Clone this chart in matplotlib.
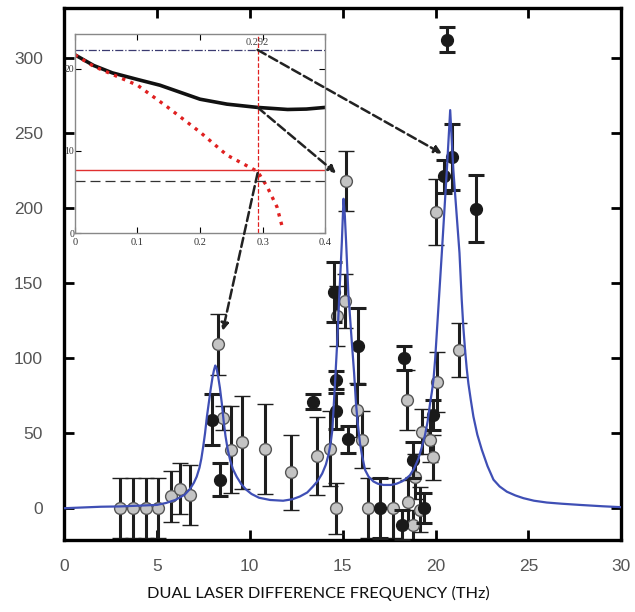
import matplotlib
matplotlib.use('Agg')
import matplotlib.pyplot as plt

# gray points (x, y, error)
gray_x = [3.0, 3.7, 4.4, 5.05, 5.75, 6.25, 6.8, 8.32, 8.59, 9.0, 9.57, 10.85,
          12.23, 13.62, 14.33, 14.65, 14.69, 15.13, 15.19, 15.8, 16.05, 16.37,
          17.7, 18.45, 18.54, 18.81, 18.9, 19.17, 19.26, 19.71, 19.89, 20.03,
          20.07, 21.29]
gray_y = [0, 0, 0, 0, 8, 13, 9, 109, 60, 39, 44, 39.5,
          24, 34.5, 39.5, 0, 128, 138, 218, 65.5, 45.5, 0,
          0, 72, 4, -11, 21, -1, 51, 45.5, 34, 197,
          84, 105.5]
gray_err = [20, 20, 20, 20, 17, 17, 20, 20, 8, 29, 31, 30,
            25, 26, 25, 17, 20, 18, 20, 18, 19, 20,
            20, 20, 15, 10, 15, 15, 15, 15, 15, 22,
            20, 18]

# black points
black_x = [8.0, 8.41, 13.4, 14.54, 14.64, 14.64, 15.31, 15.82, 17.02, 18.19,
           18.3, 18.8, 19.4, 19.85, 20.48, 20.6, 20.88, 22.18]
black_y = [59, 19, 71, 144, 85.5, 65, 46, 108, 0, -11,
           100, 32, 0, 62, 221, 312, 234, 199.5]
black_err = [17, 11, 5, 20, 6, 12, 9, 25, 20, 10,
             8, 12, 10, 10, 11, 8, 22, 22]

# fitted curve
fit_x = [0, 1, 2, 3, 4, 5, 5.5, 6, 6.5, 6.8, 7.0, 7.15, 7.3, 7.4, 7.5, 7.6,
         7.7, 7.8, 7.9, 8.0, 8.08, 8.15, 8.22, 8.3, 8.4, 8.5, 8.6, 8.7, 8.82,
         8.95, 9.1, 9.3, 9.55, 9.8, 10.1, 10.5, 11.1, 11.8, 12.3, 12.7, 13.1,
         13.4, 13.65, 13.9, 14.1, 14.25, 14.35, 14.45, 14.6, 14.7, 14.83,
         14.96, 15.05, 15.12, 15.19, 15.31, 15.5, 15.62, 15.72, 15.82, 15.94,
         16.05, 16.21, 16.4, 16.66, 16.9, 17.2, 17.6, 17.9, 18.19, 18.4, 18.63,
         18.85, 19.08, 19.25, 19.44, 19.58, 19.71, 19.8, 19.89, 19.98, 20.34,
         20.61, 20.79, 20.96, 21.29, 21.41, 21.5, 21.59, 21.68, 21.77, 21.9,
         22.04, 22.25, 22.49, 22.8, 23.12, 23.45, 23.84, 24.3, 24.73, 25.3,
         25.99, 26.8, 27.78, 29, 30]
fit_y = [0, 0.5, 1, 1.2, 1.7, 2.2, 3.5, 5.5, 9, 13, 17, 21, 27, 33, 41, 50,
         61, 70, 79, 87, 92, 95, 93, 88, 80, 70, 58, 48, 39,
         32, 26, 21, 16, 12.5, 9.5, 7, 5.5, 5, 6, 7.8, 10.5,
         14.4, 18, 23, 29, 36, 43, 52, 85, 108, 143,
         177, 206, 195, 177, 143, 110, 90, 70, 56, 43,
         35, 25.5, 21, 17.8, 16.3, 15.5, 15.5, 16.3, 17.8, 19.5, 22,
         26.5, 33, 40, 49, 58, 70, 77, 85.5, 99, 170,
         225, 265, 225, 170, 139, 120, 105.5, 93, 83, 72,
         61, 49, 39, 28, 19, 14.5, 11, 8.5, 6.7, 5,
         3.8, 3, 2.2, 1.3, 0.7]

# inset curves
ins_black_x = [0, 0.03, 0.06, 0.1, 0.136, 0.2, 0.243, 0.292, 0.34, 0.37, 0.4]
ins_black_y = [21.7, 20.4, 19.5, 18.7, 18.0, 16.3, 15.7, 15.3, 15.05, 15.1, 15.3]
ins_red_x = [0, 0.03, 0.1, 0.147, 0.2, 0.243, 0.292, 0.307, 0.323, 0.332]
ins_red_y = [21.7, 20.3, 18.0, 15.4, 12.3, 9.5, 7.5, 5.7, 3.2, 0.6]
x_mark = 0.292
lvl_top = 22.3
lvl_red = 7.7
lvl_dash = 6.3

# arrows: start y in inset, end point in the main plot
arrow_start_y = [lvl_top, 15.3, 7.3]
arrow_end_x = [20.35, 14.65, 8.55]
arrow_end_y = [236, 223, 118]

fig = plt.figure(figsize=(6.35, 6.12), dpi=100)
ax = fig.add_axes([0.1005, 0.118, 0.878, 0.869])

ax.errorbar(gray_x, gray_y, yerr=gray_err, fmt='o', color='#1e1e1e',
            mfc='#c4c4c4', mec='#555555', mew=1, ms=8.5, elinewidth=2.2,
            capsize=6, capthick=2.2, zorder=2)
ax.errorbar(black_x, black_y, yerr=black_err, fmt='o', color='#1e1e1e',
            mfc='#1a1a1a', mec='#1a1a1a', ms=8.5, elinewidth=2.2,
            capsize=6, capthick=2.2, zorder=3)
ax.plot(fit_x, fit_y, color='#3f4fb5', lw=1.6, zorder=4)

ax.set_xlim(0, 30)
ax.set_ylim(-21, 333)
ax.set_xticks([0, 5, 10, 15, 20, 25, 30])
ax.set_yticks([0, 50, 100, 150, 200, 250, 300])
ax.tick_params(direction='in', length=7, width=2, top=True, right=True,
               labelsize=12.5, labelcolor='#555555')
ax.tick_params(axis='x', pad=14)
ax.tick_params(axis='y', pad=15)
for lab in ax.get_xticklabels() + ax.get_yticklabels():
    lab.set_family('Liberation Sans')
for s in ax.spines.values():
    s.set_linewidth(2.4)
fig.text(0.502, 0.031, 'DUAL LASER DIFFERENCE FREQUENCY (THz)', family='Lato',
         fontsize=11.8, ha='center', va='center', color='#111111')

# inset
ins = fig.add_axes([0.118, 0.619, 0.394, 0.325])
ins.plot(ins_black_x, ins_black_y, color='#111111', lw=2.6)
ins.plot(ins_red_x, ins_red_y, color='#e02020', lw=2.4, ls=':')
ins.axhline(lvl_top, color='#3a3a70', lw=0.9, ls='-.')
ins.axhline(lvl_red, color='#e03030', lw=1.0)
ins.axhline(lvl_dash, color='#333333', lw=0.9, ls=(0, (8, 4)))
ins.axvline(x_mark, color='#e02020', lw=0.9, ls='--')
ins.text(x_mark, 22.7, '0.292', ha='center', va='bottom', fontsize=7.5,
         family='Liberation Serif', color='#444444')
ins.set_xlim(0, 0.4)
ins.set_ylim(0, 24.2)
ins.set_xticks([0, 0.1, 0.2, 0.3, 0.4])
ins.set_xticklabels(['0', '0.1', '0.2', '0.3', '0.4'])
ins.set_yticks([0, 10, 20])
ins.tick_params(direction='in', length=4, width=0.8, top=True, right=True,
                labelsize=7.5, pad=3.5, labelcolor='#333333')
ins.tick_params(axis='y', labelsize=7, pad=0.5)
for lab in ins.get_xticklabels() + ins.get_yticklabels():
    lab.set_family('Liberation Serif')
for s in ins.spines.values():
    s.set_color('#888888')
    s.set_linewidth(1)

for sy, ex, ey in zip(arrow_start_y, arrow_end_x, arrow_end_y):
    ins.annotate('', xy=(ex, ey), xycoords=ax.transData,
                 xytext=(x_mark, sy), textcoords='data',
                 arrowprops=dict(arrowstyle='-|>', ls='--', lw=1.8,
                                 color='#222222', shrinkA=0, shrinkB=0,
                                 mutation_scale=11),
                 annotation_clip=False)

fig.savefig('out.png', dpi=100)
